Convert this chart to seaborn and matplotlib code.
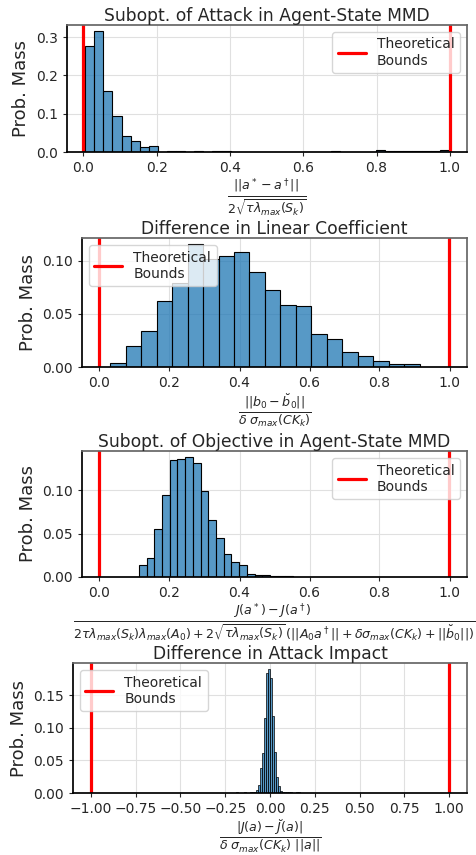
import numpy as np
import pandas as pd
import matplotlib
matplotlib.use('Agg')
import matplotlib.pyplot as plt
from matplotlib.ticker import MultipleLocator
import seaborn as sns

'''
data (probability mass per bin, read off the figure)
'''

# attack suboptimality, 40 bins on [0.005, 0.997]
attack_range = (0.005, 0.997)
attack_mass = [0.277, 0.316, 0.160, 0.095, 0.041, 0.030, 0.012, 0.016, 0.001, 0.003,
               0.002, 0.0, 0.003, 0.0, 0.003, 0.002, 0.001, 0.0, 0.001, 0.001,
               0.001, 0.001, 0.001, 0.001, 0.001, 0.001, 0.0, 0.002, 0.0, 0.001,
               0.001, 0.001, 0.005, 0.002, 0.002, 0.002, 0.002, 0.002, 0.002, 0.004]

# linear coefficient difference, 20 bins on [0.0305, 0.915]
coef_range = (0.0305, 0.915)
coef_mass = [0.0037, 0.020, 0.034, 0.062, 0.079, 0.1156, 0.102, 0.104, 0.108, 0.089,
             0.072, 0.0586, 0.0576, 0.031, 0.026, 0.0137, 0.0103, 0.006, 0.003, 0.003]

# objective suboptimality, 20 bins on [0.1125, 0.553]
obj_range = (0.1125, 0.553)
obj_mass = [0.0142, 0.0215, 0.0556, 0.0946, 0.134, 0.136, 0.138, 0.1307, 0.0992, 0.065,
            0.0448, 0.026, 0.0169, 0.0134, 0.0038, 0.0027, 0.0027, 0.001, 0.0008, 0.001]

# attack impact difference, 32 bins on [-0.192, 0.1696]
impact_range = (-0.192, 0.1696)
impact_mass = [0.001, 0.0005, 0.0005, 0.0005, 0.001, 0.0005, 0.0005, 0.001, 0.001, 0.002,
               0.0046, 0.012, 0.038, 0.061, 0.115, 0.184, 0.190, 0.176, 0.118, 0.063,
               0.025, 0.010, 0.003, 0.001, 0.001, 0.001, 0.001, 0.001, 0.0005, 0.0005,
               0.001, 0.001]

titles = ['Subopt. of Attack in Agent-State MMD',
          'Difference in Linear Coefficient',
          'Subopt. of Objective in Agent-State MMD',
          'Difference in Attack Impact']
xlabels = [r'$\frac{||a^* - a^\dagger||}{2\sqrt{\tau\lambda_{max}(S_k)}}$',
           r'$\frac{||b_0 - \breve{b}_0||}{\delta\ \sigma_{max}(CK_k)}$',
           r'$\frac{J(a^*) - J(a^\dagger)}{2\tau\lambda_{max}(S_k)\lambda_{max}(A_0) + 2\sqrt{\tau\lambda_{max}(S_k)}\,(||A_0 a^\dagger|| + \delta\sigma_{max}(CK_k) + ||\breve{b}_0||)}$',
           r'$\frac{|J(a) - \breve{J}(a)|}{\delta\ \sigma_{max}(CK_k)\ ||a||}$']
bounds = [(0, 1), (0, 1), (0, 1), (-1, 1)]
legend_loc = ['upper right', 'upper left', 'upper right', 'upper left']
hists = [(attack_range, attack_mass), (coef_range, coef_mass),
         (obj_range, obj_mass), (impact_range, impact_mass)]
ystep = [0.1, 0.05, 0.05, 0.05]
xstep = [0.2, 0.2, 0.2, 0.25]
edge_lw = [0.8, 0.8, 0.8, 0.5]

'''
plot
'''
sns.set_theme(style='white')
plt.rcParams['font.family'] = ['DejaVu Sans']
plt.rcParams['mathtext.fontset'] = 'dejavusans'

fig = plt.figure(figsize=(4.77, 8.55), dpi=100)
W, H = 477., 855.
# left, right, top, bottom in pixels
boxes = [(67, 467, 25, 152), (82, 467, 238, 367), (82, 467, 451, 577), (73, 467, 663, 793)]

for i in range(4):
    l, r, t, b = boxes[i]
    ax = fig.add_axes([l / W, 1 - b / H, (r - l) / W, (b - t) / H])
    (lo, hi), mass = hists[i]
    nb = len(mass)
    w = (hi - lo) / nb
    df = pd.DataFrame({'x': lo + w * (np.arange(nb) + 0.5), 'mass': mass})
    sns.histplot(data=df, x='x', weights='mass', bins=nb, binrange=(lo, hi), stat='count',
                 color='#1f77b4', alpha=0.75, edgecolor='black', linewidth=edge_lw[i], ax=ax)
    ax.axvline(bounds[i][0], color='red', lw=2.3, label='Theoretical\nBounds')
    ax.axvline(bounds[i][1], color='red', lw=2.3)
    ax.grid(True, color='#e0e0e0', lw=0.8)
    ax.set_axisbelow(True)
    ax.xaxis.set_major_locator(MultipleLocator(xstep[i]))
    ax.yaxis.set_major_locator(MultipleLocator(ystep[i]))
    ax.set_title(titles[i], fontsize=12.3, pad=3)
    ax.set_ylabel('Prob. Mass', fontsize=13)
    ax.set_xlabel(xlabels[i], fontsize=13, labelpad=1)
    ax.tick_params(axis='both', labelsize=10, bottom=True, left=True, length=3, width=0.8)
    for s in ['left', 'bottom']:
        ax.spines[s].set_color('black')
    for s in ['top', 'right']:
        ax.spines[s].set_color('#666666')
    ax.legend(loc=legend_loc[i], fontsize=10)

fig.savefig('out.png', dpi=100)
